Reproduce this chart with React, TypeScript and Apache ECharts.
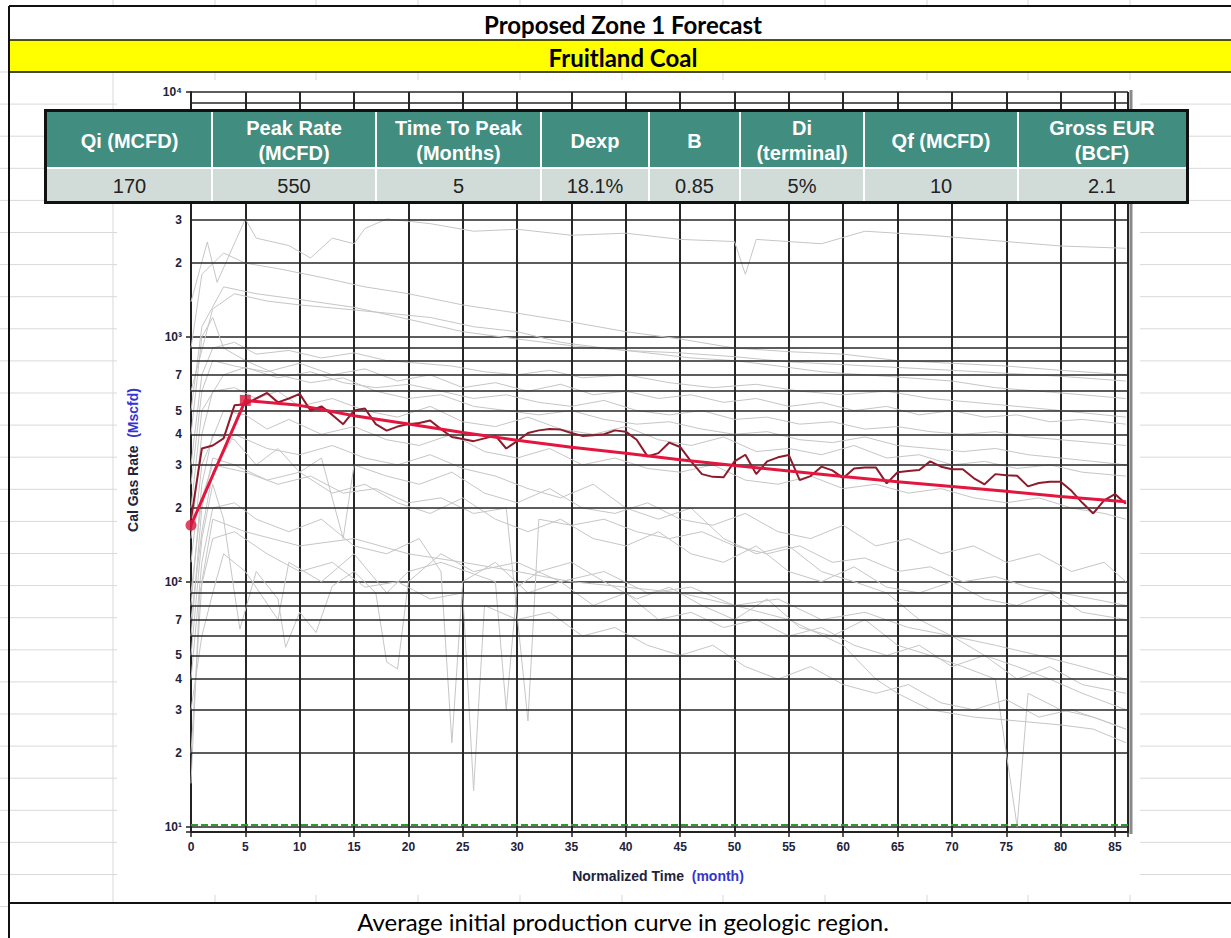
import React, { useEffect, useRef } from "react";
import * as echarts from "echarts";

// ---------- data ----------
const avgRate = [
  180, 350, 360, 385, 525, 530, 560, 590, 540, 560, 585, 500, 520, 480, 440, 500, 510, 440, 414, 430,
  440, 445, 455, 420, 390, 383, 375, 385, 395, 350, 375, 405, 415, 420, 418, 405, 394, 396, 400, 415,
  410, 380, 325, 335, 370, 355, 310, 275, 268, 267, 310, 330, 275, 310, 322, 329, 260, 270, 295, 285,
  265, 290, 293, 293, 252, 280, 283, 286, 310, 295, 288, 288, 265, 250, 275, 272, 271, 245, 253, 256,
  256, 235, 210, 190, 215, 228, 208,
];

const forecastMonths = [0, 5, 10, 15, 20, 25, 30, 35, 40, 45, 50, 55, 60, 65, 70, 75, 80, 86];
const forecastRate = [170, 550, 525, 476, 441, 407, 378, 354, 335, 315, 298, 283, 269, 256, 245, 234, 223, 212];

const qiPoint = [0, 170];
const peakPoint = [5, 550];

const well01 = [[0, 1390], [1.5, 2440], [2.4, 1670], [5, 3030], [6, 2530], [9, 2360], [11, 2100], [13, 2530], [15, 2400], [16, 2770], [18, 3030], [22, 2900], [26, 2700], [30, 2750], [35, 2600], [40, 2650], [45, 2500], [50, 2450], [51, 1800], [52, 2500], [58, 2400], [62, 2700], [68, 2600], [75, 2450], [80, 2350], [86, 2300]];
const well02 = [[0, 900], [1, 1800], [3, 2200], [5, 2000], [8, 1900], [12, 1750], [16, 1600], [20, 1500], [25, 1350], [30, 1250], [35, 1150], [40, 1050], [45, 980], [50, 900], [55, 870], [60, 850], [65, 800], [70, 780], [75, 760], [80, 730], [86, 700]];
const well03 = [[0, 600], [2, 1300], [4, 1500], [7, 1400], [10, 1350], [14, 1300], [18, 1250], [22, 1200], [26, 1100], [30, 1050], [34, 950], [38, 900], [42, 860], [46, 820], [50, 800], [54, 760], [58, 720], [62, 700], [66, 680], [70, 660], [74, 620], [78, 600], [82, 580], [86, 560]];
const well04 = [[0, 300], [1, 700], [2, 900], [4, 950], [6, 850], [9, 880], [12, 820], [15, 860], [18, 800], [21, 780], [24, 760], [27, 720], [30, 700], [33, 730], [36, 680], [40, 700], [44, 650], [48, 620], [52, 640], [56, 600], [60, 580], [64, 600], [68, 560], [72, 540], [76, 520], [80, 500], [84, 480], [86, 470]];
const well05 = [[0, 200], [1, 500], [3, 700], [5, 750], [8, 680], [11, 720], [14, 650], [17, 620], [20, 640], [23, 600], [26, 560], [29, 580], [32, 540], [35, 520], [38, 550], [41, 500], [44, 480], [47, 500], [50, 460], [53, 470], [56, 440], [59, 450], [62, 420], [65, 430], [68, 410], [71, 400], [74, 410], [77, 390], [80, 380], [83, 370], [86, 360]];
const well06 = [[0, 150], [1, 400], [2, 600], [4, 620], [6, 560], [8, 600], [10, 520], [13, 560], [16, 500], [19, 470], [22, 520], [25, 450], [28, 430], [31, 470], [34, 420], [37, 400], [40, 430], [43, 380], [46, 360], [49, 390], [52, 340], [55, 350], [58, 330], [61, 360], [64, 320], [67, 330], [70, 300], [73, 310], [76, 290], [79, 300], [82, 280], [86, 270]];
const well07 = [[0, 120], [1, 300], [3, 500], [5, 480], [7, 420], [9, 460], [12, 400], [15, 430], [18, 380], [21, 360], [24, 400], [27, 340], [30, 320], [33, 350], [36, 300], [39, 320], [42, 290], [45, 280], [48, 300], [51, 260], [54, 250], [57, 270], [60, 240], [63, 250], [66, 230], [69, 240], [72, 220], [75, 210], [78, 220], [81, 200], [84, 190], [86, 180]];
const well08 = [[0, 80], [1, 250], [2, 400], [4, 380], [6, 300], [8, 350], [10, 280], [12, 320], [14, 150], [15, 300], [18, 270], [21, 250], [24, 280], [27, 230], [30, 210], [33, 240], [36, 200], [39, 190], [42, 210], [45, 180], [48, 170], [51, 190], [54, 160], [57, 150], [60, 170], [63, 140], [66, 150], [69, 130], [72, 140], [75, 120], [78, 130], [81, 110], [84, 120], [86, 100]];
const well09 = [[0, 60], [1, 200], [2, 320], [4, 300], [7, 260], [10, 280], [13, 230], [16, 250], [19, 210], [22, 190], [25, 220], [28, 180], [31, 160], [34, 180], [37, 150], [40, 140], [43, 160], [46, 130], [49, 120], [52, 140], [55, 110], [58, 100], [61, 115], [64, 95], [67, 90], [70, 100], [73, 85], [76, 80], [79, 90], [82, 75], [86, 70]];
const well10 = [[0, 40], [1, 120], [2, 200], [4, 210], [6, 180], [9, 160], [12, 180], [15, 140], [18, 130], [21, 150], [23, 110], [24, 22], [25, 100], [28, 120], [31, 90], [34, 100], [37, 80], [40, 90], [43, 70], [46, 75], [49, 65], [52, 70], [55, 60], [58, 65], [61, 55], [64, 50], [67, 55], [70, 45], [73, 50], [76, 40], [79, 45], [82, 38], [86, 35]];
const well11 = [[0, 15], [0.8, 90], [2, 150], [4, 160], [7, 130], [10, 110], [13, 120], [16, 95], [19, 100], [22, 85], [25, 90], [26, 14], [27, 80], [30, 70], [33, 75], [36, 60], [39, 65], [42, 55], [45, 50], [48, 55], [51, 45], [54, 40], [57, 45], [60, 38], [63, 35], [66, 38], [69, 32], [72, 30], [75, 33], [78, 28], [81, 30], [84, 27], [86, 25]];
const well12 = [[0, 30], [1, 60], [2, 90], [3, 130], [5, 110], [8, 70], [9, 120], [12, 100], [15, 130], [18, 90], [20, 110], [23, 120], [28, 100], [29, 30], [30, 95], [32, 110], [35, 120], [38, 100], [41, 85], [44, 95], [47, 80], [50, 70], [53, 85], [56, 65], [59, 60], [62, 70], [65, 55], [68, 50], [71, 45], [74, 40], [76, 10], [77, 35], [80, 30], [83, 28], [86, 25]];
const well13 = [[0, 70], [1, 160], [2, 280], [4, 400], [7, 350], [10, 330], [13, 360], [16, 320], [19, 300], [22, 330], [25, 290], [28, 270], [31, 240], [34, 220], [37, 250], [40, 200], [43, 180], [46, 200], [49, 150], [52, 130], [55, 140], [58, 110], [61, 100], [64, 90], [67, 70], [70, 60], [73, 50], [76, 45], [79, 40], [82, 35], [86, 30]];
const well14 = [[0, 50], [1, 150], [2, 250], [3, 180], [4, 90], [4.5, 64], [6, 110], [8, 85], [8.7, 54], [10, 75], [11.5, 62], [13, 96], [15, 110], [17, 90], [18, 47], [19, 44], [20, 100], [23, 130], [26, 110], [30, 120], [34, 100], [38, 110], [42, 90], [46, 95], [50, 80], [54, 85], [58, 70], [62, 75], [66, 65], [70, 60], [74, 55], [78, 50], [82, 45], [86, 40]];
const well15 = [[0, 20], [1, 100], [2, 180], [5, 160], [10, 140], [15, 150], [20, 130], [25, 120], [30, 110], [35, 100], [40, 95], [45, 90], [50, 80], [55, 70], [60, 55], [63, 40], [65, 35], [68, 30], [72, 28], [76, 27], [80, 26], [83, 25], [86, 22]];
const well16 = [[0, 400], [1, 1000], [2, 1200], [3, 900], [5, 800], [8, 700], [11, 650], [14, 680], [17, 600], [20, 560], [23, 580], [26, 520], [29, 500], [32, 480], [35, 500], [38, 460], [41, 440], [44, 450], [47, 420], [50, 400], [53, 410], [56, 380], [59, 370], [62, 390], [65, 360], [68, 350], [71, 340], [74, 350], [77, 330], [80, 320], [83, 310], [86, 300]];
const well17 = [[0, 250], [1, 600], [2, 800], [4, 760], [7, 720], [10, 780], [13, 700], [16, 740], [19, 660], [22, 700], [25, 620], [28, 650], [31, 600], [34, 640], [37, 580], [40, 600], [43, 560], [46, 580], [49, 540], [52, 560], [55, 520], [58, 540], [61, 500], [64, 520], [67, 480], [70, 500], [73, 470], [76, 480], [79, 450], [82, 460], [86, 440]];
const well18 = [[0, 90], [1, 220], [2, 300], [5, 280], [8, 250], [11, 270], [14, 230], [17, 240], [20, 210], [23, 220], [26, 190], [29, 200], [31, 27], [32, 180], [35, 170], [38, 180], [41, 160], [44, 150], [47, 160], [50, 140], [53, 130], [56, 140], [59, 120], [62, 125], [65, 110], [68, 115], [71, 100], [74, 105], [77, 95], [80, 90], [83, 85], [86, 80]];
const well19 = [[0, 500], [1, 1100], [3, 1600], [6, 1500], [10, 1420], [15, 1320], [20, 1180], [25, 1050], [30, 980], [35, 920], [40, 880], [45, 860], [50, 830], [55, 790], [60, 770], [65, 750], [70, 730], [75, 710], [80, 690], [86, 660]];

const wells = [well01, well02, well03, well04, well05, well06, well07, well08, well09, well10, well11, well12, well13, well14, well15, well16, well17, well18, well19];

const minorLevels = [20, 30, 40, 50, 60, 70, 80, 90, 200, 300, 400, 500, 600, 700, 800, 900, 2000, 3000, 4000, 5000, 6000, 7000, 8000, 9000];
// levels whose digit label is printed (4000–7000 sit behind the parameter table)
const labelledLevels = [20, 30, 40, 50, 70, 200, 300, 400, 500, 700, 2000, 3000];
const powerLabels = ["10¹", "10²", "10³", "10⁴"];
const economicLimit = 10.2;

const tableHeaders = ["Qi (MCFD)", "Peak Rate\n(MCFD)", "Time To Peak\n(Months)", "Dexp", "B", "Di\n(terminal)", "Qf (MCFD)", "Gross EUR\n(BCF)"];
const tableValues = ["170", "550", "5", "18.1%", "0.85", "5%", "10", "2.1"];

const titleText = "Proposed Zone 1 Forecast";
const subtitleText = "Fruitland Coal";
const footerText = "Average initial production curve in geologic region.";

// ---------- layout ----------
const W = 1231;
const H = 938;
const AX = "'Liberation Sans', Arial, sans-serif";
const CAL = "Lato, 'Open Sans', sans-serif";
const LABEL_COLOR = "#22223c";

function buildGraphic() {
  const g: any[] = [];
  // sheet grid lines
  const colX = [113, 215, 316, 418, 520, 622, 723, 825, 927, 1028, 1130];
  colX.forEach((x) =>
    g.push({ type: "line", z: -3, silent: true, shape: { x1: x, y1: 0, x2: x, y2: H }, style: { stroke: "#d9d9d9", lineWidth: 1 } })
  );
  for (let k = 0; k <= 27; k++) {
    const y = 72 + 32.1 * k;
    g.push({ type: "line", z: -3, silent: true, shape: { x1: 0, y1: y, x2: W, y2: y }, style: { stroke: "#d9d9d9", lineWidth: 1 } });
  }
  // merged cells (white) and chart object
  g.push({ type: "rect", z: -2, silent: true, shape: { x: 10, y: 7, width: W, height: 33 }, style: { fill: "#fff" } });
  g.push({ type: "rect", z: -2, silent: true, shape: { x: 117, y: 80, width: 1023, height: 815 }, style: { fill: "#fff" } });
  g.push({ type: "rect", z: -2, silent: true, shape: { x: 10, y: 904, width: W, height: 40 }, style: { fill: "#fff" } });
  // yellow band
  g.push({ type: "rect", z: -2, silent: true, shape: { x: 10, y: 40, width: W, height: 32 }, style: { fill: "#ffff00" } });
  // black borders
  const blk = (x1: number, y1: number, x2: number, y2: number, w: number) =>
    g.push({ type: "line", z: -1, silent: true, shape: { x1, y1, x2, y2 }, style: { stroke: "#111", lineWidth: w } });
  blk(9, 6, W, 6, 2);
  blk(9, 40, W, 40, 1.5);
  blk(9, 72, W, 72, 1.5);
  blk(9, 6, 9, H, 2);
  blk(9, 903, W, 903, 2);
  // right frame shadow
  g.push({ type: "line", z: -1, silent: true, shape: { x1: 1131, y1: 90, x2: 1131, y2: 834 }, style: { stroke: "#8a8a8a", lineWidth: 3 } });

  // titles
  g.push({ type: "text", z: 1, x: 623, y: 24, style: { text: titleText, fontFamily: CAL, fontSize: 24, fontWeight: "bold", fill: "#000", align: "center", verticalAlign: "middle" } });
  g.push({ type: "text", z: 1, x: 623, y: 57, style: { text: subtitleText, fontFamily: CAL, fontSize: 24, fontWeight: "bold", fill: "#000", align: "center", verticalAlign: "middle" } });
  g.push({ type: "text", z: 1, x: 623, y: 921, style: { text: footerText, fontFamily: CAL, fontSize: 24, fill: "#000", align: "center", verticalAlign: "middle" } });

  // axis names
  g.push({
    type: "text", z: 1, x: 133, y: 460, rotation: Math.PI / 2,
    style: {
      text: "{a|Cal Gas Rate}  {b|(Mscfd)}", align: "center", verticalAlign: "middle",
      fontFamily: AX, fontSize: 14, fontWeight: "bold",
      rich: {
        a: { fill: LABEL_COLOR, fontFamily: AX, fontSize: 14, fontWeight: "bold" },
        b: { fill: "#3535d0", fontFamily: AX, fontSize: 14, fontWeight: "bold" },
      },
    },
  });
  g.push({
    type: "text", z: 1, x: 658, y: 876,
    style: {
      text: "{a|Normalized Time}  {b|(month)}", align: "center", verticalAlign: "middle",
      fontFamily: AX, fontSize: 14, fontWeight: "bold",
      rich: {
        a: { fill: LABEL_COLOR, fontFamily: AX, fontSize: 14, fontWeight: "bold" },
        b: { fill: "#3535d0", fontFamily: AX, fontSize: 14, fontWeight: "bold" },
      },
    },
  });

  // table
  const cols = [47, 212, 376, 541, 649, 740, 864, 1018, 1186];
  const top = 112, hdrBottom = 167, dataTop = 169, bottom = 201;
  g.push({ type: "rect", z: 100, silent: true, shape: { x: 44, y: 109, width: 1145, height: 95 }, style: { fill: "#111" } });
  g.push({ type: "rect", z: 100, silent: true, shape: { x: 47, y: top, width: 1139, height: bottom - top }, style: { fill: "#fff" } });
  for (let i = 0; i < 8; i++) {
    const x0 = cols[i] + (i === 0 ? 0 : 1);
    const w = cols[i + 1] - x0 - (i === 7 ? 0 : 1);
    g.push({ type: "rect", z: 101, silent: true, shape: { x: x0, y: top, width: w, height: hdrBottom - top }, style: { fill: "#418d80" } });
    g.push({ type: "rect", z: 101, silent: true, shape: { x: x0, y: dataTop, width: w, height: bottom - dataTop }, style: { fill: "#d1dcd9" } });
    const cx = (cols[i] + cols[i + 1]) / 2;
    g.push({ type: "text", z: 102, x: cx, y: (top + hdrBottom) / 2 + 1, style: { text: tableHeaders[i], fontFamily: AX, fontSize: 20, fontWeight: "bold", fill: "#fff", align: "center", verticalAlign: "middle", lineHeight: 25 } });
    g.push({ type: "text", z: 102, x: cx, y: (dataTop + bottom) / 2 + 1, style: { text: tableValues[i], fontFamily: AX, fontSize: 20, fill: "#222", align: "center", verticalAlign: "middle" } });
  }
  return g;
}

function buildOption() {
  const grayStyle = { color: "#c6c6c6", width: 1 };
  const wellSeries = wells.map((w, i) => ({
    name: "well" + (i + 1), type: "line", data: w, symbol: "none", silent: true, z: 2,
    lineStyle: grayStyle, itemStyle: { color: "#c6c6c6" },
  }));
  const decadeOf = (v: number) => Math.pow(10, Math.floor(Math.log10(v) + 1e-9));
  return {
    animation: false,
    backgroundColor: "transparent",
    grid: { left: 191, right: W - 1128, top: 92, bottom: H - 832, show: false },
    xAxis: {
      type: "value", min: 0, max: 86.2, interval: 5,
      axisLine: { show: true, onZero: false, lineStyle: { color: "#222", width: 2 } },
      axisTick: { show: true, length: 5, lineStyle: { color: "#222", width: 1.5 } },
      axisLabel: {
        fontFamily: AX, fontSize: 12, fontWeight: "bold", color: LABEL_COLOR, margin: 9,
        formatter: (v: number) => (Math.abs(v % 5) < 1e-6 ? String(v) : ""),
      },
      splitLine: { show: true, lineStyle: { color: "#262626", width: 2 } },
    },
    yAxis: {
      type: "log", logBase: 10, min: 9.5, max: 10000,
      axisLine: { show: true, onZero: false, lineStyle: { color: "#222", width: 2 } },
      axisTick: { show: true, length: 5, lineStyle: { color: "#222", width: 1.5 } },
      axisLabel: {
        fontFamily: AX, fontSize: 12, fontWeight: "bold", color: LABEL_COLOR, margin: 9,
        formatter: (v: number) => {
          const e = Math.log10(v);
          const r = Math.round(e);
          if (Math.abs(e - r) > 1e-6 || r < 1 || r > 4) return "";
          return powerLabels[r - 1];
        },
      },
      splitLine: { show: true, lineStyle: { color: "#262626", width: 1.6 } },
      minorTick: { show: false },
      minorSplitLine: { show: false },
    },
    graphic: buildGraphic(),
    series: [
      {
        name: "grid-minor", type: "line", data: [[0, 100]], symbol: "none", silent: true, z: 1,
        lineStyle: { opacity: 0 },
        markLine: {
          silent: true, symbol: "none", animation: false,
          lineStyle: { color: "#262626", width: 1.6, type: "solid" },
          label: {
            show: true, position: "start", distance: 9,
            fontFamily: AX, fontSize: 12, fontWeight: "bold", color: LABEL_COLOR,
            formatter: (p: any) => {
              if (!labelledLevels.includes(Math.round(p.value))) return "";
              return String(Math.round(p.value / decadeOf(p.value)));
            },
          },
          data: minorLevels.map((v) => ({ yAxis: v })),
        },
      },
      ...wellSeries,
      {
        name: "limit", type: "line", data: [[0, economicLimit]], symbol: "none", silent: true, z: 5,
        lineStyle: { opacity: 0 },
        markLine: {
          silent: true, symbol: "none", animation: false,
          lineStyle: { color: "#2a9d2a", width: 2, type: [7, 3] },
          label: { show: false },
          data: [{ yAxis: economicLimit }],
        },
      },
      {
        name: "average", type: "line", data: avgRate.map((v, i) => [i, v]), symbol: "none", z: 6,
        lineStyle: { color: "#8e1b2c", width: 2 }, itemStyle: { color: "#8e1b2c" },
      },
      {
        name: "forecast", type: "line", data: forecastMonths.map((m, i) => [m, forecastRate[i]]), symbol: "none", z: 7,
        lineStyle: { color: "#e2163e", width: 3 }, itemStyle: { color: "#e2163e" },
      },
      {
        name: "qi", type: "scatter", data: [qiPoint], symbol: "circle", symbolSize: 11, z: 8, clip: false,
        itemStyle: { color: "#d8163c" },
      },
      {
        name: "peak", type: "scatter", data: [peakPoint], symbol: "rect", symbolSize: 11, z: 8, clip: false,
        itemStyle: { color: "#d8163c" },
      },
    ],
  };
}

export default function App() {
  const ref = useRef<HTMLDivElement>(null);
  useEffect(() => {
    document.body.style.margin = "0";
    document.body.style.overflow = "hidden";
    if (!ref.current) return;
    const chart = echarts.init(ref.current, undefined, { renderer: "svg" });
    chart.setOption(buildOption() as any);
    return () => chart.dispose();
  }, []);
  return <div ref={ref} style={{ width: W, height: H, background: "#fff" }} />;
}
